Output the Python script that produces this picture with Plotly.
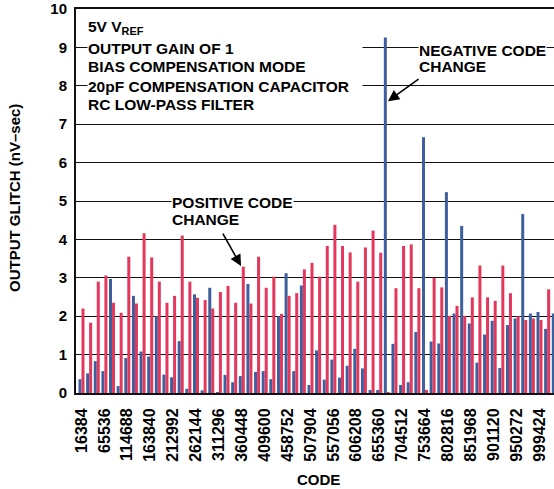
import plotly.graph_objects as go

# DAC code steps (one group per 16384 codes)
codes = list(range(16384, 16384 * 64, 16384))
tick_codes = codes[::3]
tick_labels = [str(c) for c in tick_codes]

# Glitch impulse (nV-sec) per code step
negative_change = [
    0.36, 0.51, 0.83, 0.57, 2.97, 0.18, 0.91, 2.53, 1.08, 0.95,
    2.00, 0.48, 0.41, 1.35, 0.11, 2.57, 0.07, 2.74, 0.02, 0.47,
    0.28, 0.44, 2.84, 0.55, 0.57, 0.36, 2.00, 3.12, 0.57, 2.80,
    0.21, 1.11, 0.35, 0.87, 0.40, 0.71, 1.15, 0.64, 0.08, 0.08,
    9.26, 1.28, 0.21, 0.28, 1.59, 6.66, 1.34, 1.29, 5.23, 2.07,
    4.35, 1.81, 0.79, 1.52, 1.88, 0.65, 1.77, 1.94, 4.66, 2.07,
    2.11, 1.67, 2.07,
]
positive_change = [
    2.20, 1.83, 2.90, 3.06, 2.35, 2.09, 3.55, 2.33, 4.16, 3.53,
    2.90, 2.35, 2.53, 4.10, 2.90, 2.48, 2.42, 2.20, 2.63, 2.79,
    2.35, 3.29, 2.33, 3.55, 2.74, 3.03, 2.06, 2.53, 2.60, 3.22,
    3.39, 3.03, 3.83, 4.38, 3.83, 3.66, 2.90, 3.79, 4.23, 3.65,
    0.02, 2.73, 3.83, 3.87, 2.73, 0.08, 3.00, 2.75, 2.01, 2.27,
    2.01, 2.49, 3.32, 2.49, 2.40, 3.32, 2.60, 2.00, 1.90, 1.94,
    1.90, 2.70, 2.30,
]

BLUE = "#3e5f9e"
RED = "#e3385c"
FONT = "Liberation Sans, Arial, Helvetica, sans-serif"

fig = go.Figure()
fig.add_trace(go.Bar(x=codes, y=negative_change, marker_color=BLUE,
                     marker_line_width=0, name="negative"))
fig.add_trace(go.Bar(x=codes, y=positive_change, marker_color=RED,
                     marker_line_width=0, name="positive"))

W, H = 554, 489
ML, MR, MT, MB = 76, 0, 9, 96
PW, PH = W - ML - MR, H - MT - MB


def px_x(px):
    return (px - ML) / PW


def px_y(py):
    return (H - MB - py) / PH


text_font = dict(family=FONT, size=15.5, color="black", weight="bold")

annotations = []

# condition block, top-left
block = [
    ("5V V<sub>REF</sub>", 28),
    ("OUTPUT GAIN OF 1", 48),
    ("BIAS COMPENSATION MODE", 67),
    ("20pF COMPENSATION CAPACITOR", 86),
    ("RC LOW-PASS FILTER", 104),
]
for txt, yc in block:
    annotations.append(dict(
        text=txt, xref="paper", yref="paper", x=px_x(87), y=px_y(yc),
        xanchor="left", yanchor="middle", align="left", showarrow=False,
        font=text_font, bgcolor="white", width=274, borderpad=0,
    ))

# callout labels
for txt, x0, yc in [("NEGATIVE CODE", 418, 50), ("CHANGE", 418, 67),
                    ("POSITIVE CODE", 171, 202), ("CHANGE", 171, 219)]:
    annotations.append(dict(
        text=txt, xref="paper", yref="paper", x=px_x(x0), y=px_y(yc),
        xanchor="left", yanchor="middle", align="left", showarrow=False,
        font=text_font, bgcolor="white", borderpad=0,
    ))

# callout arrows (tail -> tip, in data coordinates)
for tail, tip in [((743000, 8.20), (674250, 7.60)),
                  ((318000, 4.19), (358800, 3.31))]:
    annotations.append(dict(
        text="", x=tip[0], y=tip[1], xref="x", yref="y",
        ax=tail[0], ay=tail[1], axref="x", ayref="y",
        showarrow=True, arrowhead=2, arrowsize=1.4, arrowwidth=1.6,
        arrowcolor="black", standoff=0, startstandoff=0,
    ))

# axis titles
annotations.append(dict(
    text="OUTPUT GLITCH (nV\u2013sec)", xref="paper", yref="paper",
    x=px_x(14), y=px_y(198), textangle=-90, showarrow=False,
    xanchor="center", yanchor="middle",
    font=dict(family=FONT, size=15, color="black", weight="bold"),
))
annotations.append(dict(
    text="CODE", xref="paper", yref="paper",
    x=px_x(318), y=px_y(479), showarrow=False,
    xanchor="center", yanchor="middle",
    font=dict(family=FONT, size=15, color="black", weight="bold"),
))

fig.update_layout(
    width=W, height=H,
    margin=dict(l=ML, r=MR, t=MT, b=MB, pad=0),
    paper_bgcolor="white", plot_bgcolor="white",
    barmode="group", bargap=0.214, bargroupgap=0,
    showlegend=False,
    annotations=annotations,
    font=dict(family=FONT, color="black"),
)

fig.update_xaxes(
    range=[4578, 1030544],
    tickmode="array", tickvals=tick_codes, ticktext=tick_labels,
    tickangle=-90, ticks="", showgrid=False, zeroline=False,
    showline=True, linecolor="#111", linewidth=2, mirror=True,
    tickfont=dict(family=FONT, size=16, color="black", weight="bold"),
    ticklabelstandoff=7,
)
fig.update_yaxes(
    range=[0, 10], dtick=1, tick0=0, ticks="",
    showgrid=True, gridcolor="#111", gridwidth=1, zeroline=False,
    showline=True, linecolor="#111", linewidth=2, mirror=False,
    tickfont=dict(family=FONT, size=15, color="black", weight="bold"),
    ticklabelstandoff=4,
)

fig.write_html("out.html")
